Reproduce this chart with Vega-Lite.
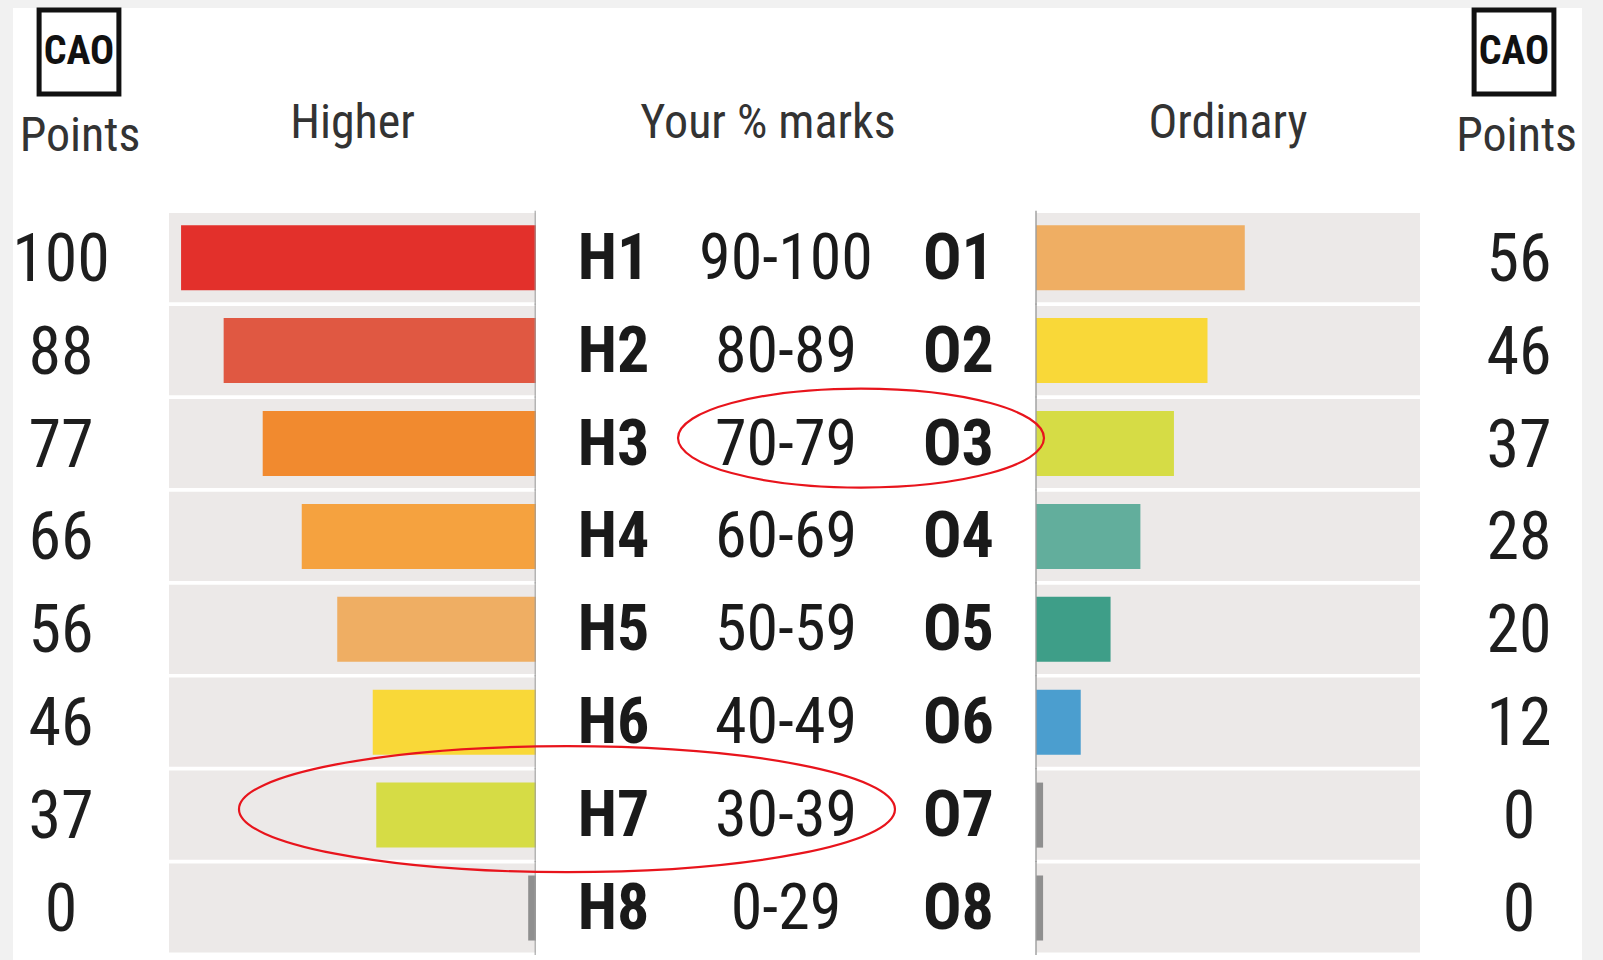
{
  "$schema": "https://vega.github.io/schema/vega-lite/v6.json",
  "background": "#f1f1f1",
  "padding": {"left": 12, "top": 0, "right": 22, "bottom": 0},
  "spacing": 0,
  "bounds": "flush",
  "datasets": {
    "rows": [
      {"row": 1, "h": "H1", "range": "90-100", "o": "O1", "hp": 100, "hbar": 100, "op": 56},
      {"row": 2, "h": "H2", "range": "80-89", "o": "O2", "hp": 88, "hbar": 88, "op": 46},
      {"row": 3, "h": "H3", "range": "70-79", "o": "O3", "hp": 77, "hbar": 77, "op": 37},
      {"row": 4, "h": "H4", "range": "60-69", "o": "O4", "hp": 66, "hbar": 66, "op": 28},
      {"row": 5, "h": "H5", "range": "50-59", "o": "O5", "hp": 56, "hbar": 56, "op": 20},
      {"row": 6, "h": "H6", "range": "40-49", "o": "O6", "hp": 46, "hbar": 46, "op": 12},
      {"row": 7, "h": "H7", "range": "30-39", "o": "O7", "hp": 37, "hbar": 45, "op": 0},
      {"row": 8, "h": "H8", "range": "0-29", "o": "O8", "hp": 0, "hbar": 0, "op": 0}
    ],
    "logo": [{"name": "CAO"}]
  },
  "config": {
    "view": {"stroke": null, "fill": "white"},
    "axis": {"disable": true},
    "title": {"font": "Roboto Condensed, DejaVu Sans Condensed, Roboto, sans-serif", "fontWeight": "normal", "color": "#333333", "baseline": "alphabetic", "frame": "group", "anchor": "middle"},
    "text": {"font": "Roboto Condensed, DejaVu Sans Condensed, Roboto, sans-serif"}
  },
  "resolve": {"scale": {"x": "independent", "y": "independent", "color": "independent"}},
  "hconcat": [
    {
      "width": 156, "height": 953,
      "title": {"text": "Points", "fontSize": 48, "offset": -161, "dx": -11},
      "layer": [
        {
          "data": {"name": "rows"},
          "mark": {"type": "text", "fontSize": 66, "dx": -30, "dy": 3, "baseline": "middle", "color": "#1e1e1e"},
          "encoding": {
            "y": {"field": "row", "type": "ordinal", "axis": null, "scale": {"type": "band", "domain": [0,1,2,3,4,5,6,7,8], "paddingInner": 0, "paddingOuter": 0.6292, "align": 0.944}},
            "text": {"field": "hp"}
          }
        },
        {
          "data": {"name": "logo"},
          "mark": {"type": "point", "shape": "M -0.95 -1 L 0.95 -1 L 0.95 1 L -0.95 1 Z", "size": 7056, "filled": false, "stroke": "#111111", "strokeWidth": 5, "opacity": 1},
          "encoding": {"x": {"value": 66}, "y": {"value": 44}}
        },
        {
          "data": {"name": "logo"},
          "mark": {"type": "text", "fontSize": 40, "fontWeight": "bold", "baseline": "middle", "color": "#111111"},
          "encoding": {"x": {"value": 66}, "y": {"value": 44}, "text": {"field": "name"}}
        }
      ]
    },
    {
      "width": 367, "height": 953,
      "title": {"text": "Higher", "fontSize": 48, "offset": -140},
      "data": {"name": "rows"},
      "layer": [
        {
          "mark": {"type": "bar", "color": "#ece9e8", "height": {"band": 0.96}},
          "encoding": {
            "y": {"field": "row", "type": "ordinal", "axis": null, "scale": {"type": "band", "domain": [0,1,2,3,4,5,6,7,8], "paddingInner": 0, "paddingOuter": 0.6292, "align": 0.944}},
            "x": {"value": 0}, "x2": {"value": "width"}
          }
        },
        {
          "transform": [{"filter": "datum.hp > 0"}],
          "mark": {"type": "bar", "height": {"band": 0.7}},
          "encoding": {
            "y": {"field": "row", "type": "ordinal", "axis": null},
            "x": {"field": "hbar", "type": "quantitative", "axis": null, "scale": {"domain": [0, 103.4], "reverse": true, "nice": false}},
            "color": {"field": "h", "type": "nominal", "legend": null, "scale": {"domain": ["H1","H2","H3","H4","H5","H6","H7"], "range": ["#e3302b","#e05842","#f18a2f","#f5a23f","#efae63","#f9d838","#d6dc45"]}}
          }
        },
        {
          "transform": [{"filter": "datum.hp == 0"}],
          "mark": {"type": "bar", "color": "#8f8f8f", "height": {"band": 0.7}},
          "encoding": {
            "y": {"field": "row", "type": "ordinal", "axis": null},
            "x": {"datum": 0, "type": "quantitative", "axis": null}, "x2": {"datum": 2.2}
          }
        },
        {
          "mark": {"type": "tick", "color": "#9d9d9d", "thickness": 3, "size": 94},
          "encoding": {
            "y": {"field": "row", "type": "ordinal", "axis": null},
            "x": {"datum": 0, "type": "quantitative", "axis": null}
          }
        }
      ]
    },
    {
      "width": 500, "height": 953,
      "title": {"text": "Your % marks", "fontSize": 48, "offset": -140, "dx": -18},
      "data": {"name": "rows"},
      "layer": [
        {
          "mark": {"type": "text", "fontSize": 64, "fontWeight": "bold", "baseline": "middle", "dy": 2, "color": "#1a1a1a"},
          "encoding": {
            "y": {"field": "row", "type": "ordinal", "axis": null, "scale": {"type": "band", "domain": [0,1,2,3,4,5,6,7,8], "paddingInner": 0, "paddingOuter": 0.6292, "align": 0.944}},
            "x": {"datum": "H", "type": "ordinal", "axis": null, "scale": {"type": "point", "domain": ["H","range","O"], "padding": 0.45}},
            "text": {"field": "h"}
          }
        },
        {
          "mark": {"type": "text", "fontSize": 64, "baseline": "middle", "dy": 2, "color": "#1a1a1a"},
          "encoding": {
            "y": {"field": "row", "type": "ordinal", "axis": null},
            "x": {"datum": "range", "type": "ordinal", "axis": null},
            "text": {"field": "range"}
          }
        },
        {
          "mark": {"type": "text", "fontSize": 64, "fontWeight": "bold", "baseline": "middle", "dy": 2, "color": "#1a1a1a"},
          "encoding": {
            "y": {"field": "row", "type": "ordinal", "axis": null},
            "x": {"datum": "O", "type": "ordinal", "axis": null},
            "text": {"field": "o"}
          }
        },
        {
          "transform": [{"filter": "datum.row == 7"}],
          "mark": {"type": "point", "shape": "M 1 0 C 1 0.106 0.5523 0.192 0 0.192 C -0.5523 0.192 -1 0.106 -1 0 C -1 -0.106 -0.5523 -0.192 0 -0.192 C 0.5523 -0.192 1 -0.106 1 0 Z", "size": 430336, "filled": false, "stroke": "#e8141c", "strokeWidth": 2.2, "opacity": 1},
          "encoding": {
            "y": {"field": "row", "type": "ordinal", "axis": null},
            "x": {"datum": "H", "type": "ordinal", "axis": null},
            "xOffset": {"value": -46.6},
            "yOffset": {"value": 40.5}
          }
        }
      ]
    },
    {
      "width": 384, "height": 953,
      "title": {"text": "Ordinary", "fontSize": 48, "offset": -140},
      "data": {"name": "rows"},
      "layer": [
        {
          "mark": {"type": "bar", "color": "#ece9e8", "height": {"band": 0.96}},
          "encoding": {
            "y": {"field": "row", "type": "ordinal", "axis": null, "scale": {"type": "band", "domain": [0,1,2,3,4,5,6,7,8], "paddingInner": 0, "paddingOuter": 0.6292, "align": 0.944}},
            "x": {"value": 0}, "x2": {"value": "width"}
          }
        },
        {
          "transform": [{"filter": "datum.op > 0"}],
          "mark": {"type": "bar", "height": {"band": 0.7}},
          "encoding": {
            "y": {"field": "row", "type": "ordinal", "axis": null},
            "x": {"field": "op", "type": "quantitative", "axis": null, "scale": {"domain": [0, 103], "nice": false}},
            "color": {"field": "o", "type": "nominal", "legend": null, "scale": {"domain": ["O1","O2","O3","O4","O5","O6"], "range": ["#efae63","#f9d838","#d6dc45","#62ae9c","#3e9e88","#4b9ecf"]}}
          }
        },
        {
          "transform": [{"filter": "datum.op == 0"}],
          "mark": {"type": "bar", "color": "#8f8f8f", "height": {"band": 0.7}},
          "encoding": {
            "y": {"field": "row", "type": "ordinal", "axis": null},
            "x": {"datum": 0, "type": "quantitative", "axis": null}, "x2": {"datum": 1.9}
          }
        },
        {
          "mark": {"type": "tick", "color": "#9d9d9d", "thickness": 2, "size": 94},
          "encoding": {
            "y": {"field": "row", "type": "ordinal", "axis": null},
            "x": {"datum": 0, "type": "quantitative", "axis": null}
          }
        },
        {
          "transform": [{"filter": "datum.row == 3"}],
          "mark": {"type": "point", "shape": "M 1 0 C 1 0.1494 0.5523 0.2705 0 0.2705 C -0.5523 0.2705 -1 0.1494 -1 0 C -1 -0.1494 -0.5523 -0.2705 0 -0.2705 C 0.5523 -0.2705 1 -0.1494 1 0 Z", "size": 133956, "filled": false, "stroke": "#e8141c", "strokeWidth": 2.2, "opacity": 1},
          "encoding": {
            "y": {"field": "row", "type": "ordinal", "axis": null},
            "x": {"datum": 0, "type": "quantitative", "axis": null},
            "xOffset": {"value": -175},
            "yOffset": {"value": 41}
          }
        }
      ]
    },
    {
      "width": 162, "height": 953,
      "title": {"text": "Points", "fontSize": 48, "offset": -161, "dx": 15.6},
      "layer": [
        {
          "data": {"name": "rows"},
          "mark": {"type": "text", "fontSize": 66, "dx": 18, "dy": 3, "baseline": "middle", "color": "#1e1e1e"},
          "encoding": {
            "y": {"field": "row", "type": "ordinal", "axis": null, "scale": {"type": "band", "domain": [0,1,2,3,4,5,6,7,8], "paddingInner": 0, "paddingOuter": 0.6292, "align": 0.944}},
            "text": {"field": "op"}
          }
        },
        {
          "data": {"name": "logo"},
          "mark": {"type": "point", "shape": "M -0.95 -1 L 0.95 -1 L 0.95 1 L -0.95 1 Z", "size": 7056, "filled": false, "stroke": "#111111", "strokeWidth": 5, "opacity": 1},
          "encoding": {"x": {"value": 94}, "y": {"value": 44}}
        },
        {
          "data": {"name": "logo"},
          "mark": {"type": "text", "fontSize": 40, "fontWeight": "bold", "baseline": "middle", "color": "#111111"},
          "encoding": {"x": {"value": 94}, "y": {"value": 44}, "text": {"field": "name"}}
        }
      ]
    }
  ]
}
